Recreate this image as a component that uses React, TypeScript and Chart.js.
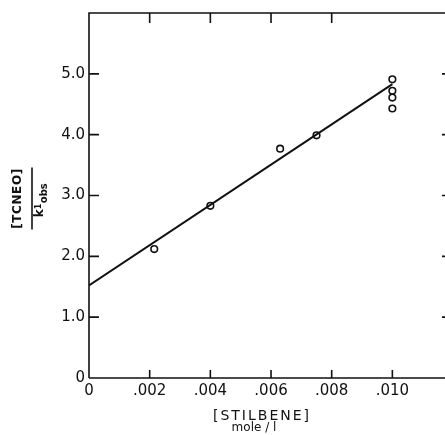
import React, { useEffect, useRef } from 'react';
import { Chart, registerables } from 'chart.js';

Chart.register(...registerables);

// Data
const stilbene = [0.00215, 0.0040, 0.0063, 0.0075, 0.0100, 0.0100, 0.0100, 0.0100];
const ratio = [2.12, 2.83, 3.77, 3.99, 4.91, 4.72, 4.61, 4.43];
const fitX = [0, 0.0100];
const fitY = [1.52, 4.83];
const xTicks = [0, 0.002, 0.004, 0.006, 0.008, 0.010];
const xTopTicks = [0.002, 0.004, 0.006, 0.008];
const yTicks = [0, 1, 2, 3, 4, 5];
const xTitle = '[STILBENE]';
const xUnit = 'mole / l';
const yTitleTop = '[TCNEO]';

const INK = '#111';
const FONT = '"DejaVu Sans", sans-serif';

const framePlugin = {
  id: 'frame',
  afterDraw(chart: any) {
    const { ctx, chartArea } = chart;
    const xs = chart.scales.x;
    const ys = chart.scales.y;
    const { left, right, top, bottom } = chartArea;
    ctx.save();
    ctx.strokeStyle = INK;
    ctx.lineWidth = 1.6;
    // frame
    ctx.beginPath();
    ctx.moveTo(left, bottom);
    ctx.lineTo(left, top);
    ctx.lineTo(right, top);
    ctx.lineTo(right, bottom);
    ctx.lineTo(left, bottom);
    ctx.stroke();
    // inward ticks
    ctx.beginPath();
    yTicks.forEach((v) => {
      if (v === 0) return;
      const py = ys.getPixelForValue(v);
      ctx.moveTo(left, py);
      ctx.lineTo(left + 10, py);
      ctx.moveTo(right, py);
      ctx.lineTo(right - 8, py);
    });
    xTicks.forEach((v) => {
      if (v === 0) return;
      const px = xs.getPixelForValue(v);
      ctx.moveTo(px, bottom);
      ctx.lineTo(px, bottom - 8);
    });
    xTopTicks.forEach((v) => {
      const px = xs.getPixelForValue(v);
      ctx.moveTo(px, top);
      ctx.lineTo(px, top + 10);
    });
    ctx.stroke();

    // Y title: [TCNEO] / k1obs
    const yc = (top + bottom) / 2 + 3;
    ctx.fillStyle = INK;
    ctx.save();
    ctx.translate(18, yc);
    ctx.rotate(-Math.PI / 2);
    ctx.font = `bold 12px ${FONT}`;
    (ctx as any).letterSpacing = '0.6px';
    ctx.textAlign = 'center';
    ctx.textBaseline = 'middle';
    ctx.fillText(yTitleTop, 0, 0);
    ctx.restore();

    ctx.beginPath();
    ctx.lineWidth = 1.6;
    ctx.moveTo(32, yc - 31);
    ctx.lineTo(32, yc + 31);
    ctx.stroke();

    ctx.save();
    ctx.translate(43, yc + 2);
    ctx.rotate(-Math.PI / 2);
    ctx.textAlign = 'left';
    ctx.textBaseline = 'alphabetic';
    ctx.font = `bold 12px ${FONT}`;
    const wk = ctx.measureText('k').width;
    ctx.font = `bold 8px ${FONT}`;
    const w1 = ctx.measureText('1').width;
    ctx.font = `bold 10px ${FONT}`;
    const wo = ctx.measureText('obs').width;
    let u = -(wk + w1 + wo) / 2;
    ctx.font = `bold 12px ${FONT}`;
    ctx.fillText('k', u, 0);
    u += wk;
    ctx.font = `bold 8px ${FONT}`;
    ctx.fillText('1', u, -2);
    u += w1 + 0.5;
    ctx.font = `bold 10px ${FONT}`;
    ctx.fillText('obs', u, 4);
    ctx.restore();

    // X title
    ctx.save();
    ctx.textAlign = 'center';
    ctx.textBaseline = 'middle';
    ctx.font = `14px ${FONT}`;
    (ctx as any).letterSpacing = '2px';
    ctx.fillText(xTitle, 262, 416);
    (ctx as any).letterSpacing = '0px';
    ctx.font = `12px ${FONT}`;
    ctx.fillText(xUnit, 254, 428);
    ctx.restore();

    ctx.restore();
  },
};

export default function App() {
  const ref = useRef<HTMLCanvasElement>(null);

  useEffect(() => {
    document.body.style.margin = '0';
    const canvas = ref.current;
    if (!canvas) return;
    const chart = new Chart(canvas, {
      type: 'scatter',
      data: {
        datasets: [
          {
            type: 'line',
            data: fitX.map((x, i) => ({ x, y: fitY[i] })),
            borderColor: INK,
            borderWidth: 2,
            pointRadius: 0,
            fill: false,
          } as any,
          {
            type: 'scatter',
            data: stilbene.map((x, i) => ({ x, y: ratio[i] })),
            pointStyle: 'circle',
            pointRadius: 3.3,
            borderColor: INK,
            backgroundColor: '#fff',
            borderWidth: 1.6,
          } as any,
        ],
      },
      options: {
        responsive: false,
        animation: false,
        layout: { padding: { left: 0, top: 12, right: 20, bottom: 0 } },
        plugins: { legend: { display: false }, tooltip: { enabled: false } },
        scales: {
          x: {
            type: 'linear',
            min: 0,
            max: 0.0119,
            grid: { display: false, drawTicks: false },
            border: { display: false },
            afterBuildTicks: (s: any) => {
              s.ticks = xTicks.map((v) => ({ value: v }));
            },
            afterFit: (s: any) => {
              s.height = 57;
            },
            ticks: {
              padding: 4,
              color: INK,
              font: { family: FONT, size: 15 },
              maxRotation: 0,
              callback: (v: any) => (Number(v) === 0 ? '0' : Number(v).toFixed(3).slice(1)),
            },
          },
          y: {
            type: 'linear',
            min: 0,
            max: 6,
            grid: { display: false, drawTicks: false },
            border: { display: false },
            afterBuildTicks: (s: any) => {
              s.ticks = yTicks.map((v) => ({ value: v }));
            },
            afterFit: (s: any) => {
              s.width = 89;
            },
            ticks: {
              padding: 4,
              color: INK,
              font: { family: FONT, size: 15 },
              callback: (v: any) => (Number(v) === 0 ? '0' : Number(v).toFixed(1)),
            },
          },
        },
      } as any,
      plugins: [framePlugin],
    });
    return () => chart.destroy();
  }, []);

  return (
    <div style={{ position: 'fixed', left: 0, top: 0, width: 445, height: 435, overflow: 'hidden', background: '#fff' }}>
      <canvas ref={ref} width={470} height={435} style={{ display: 'block' }} />
    </div>
  );
}
